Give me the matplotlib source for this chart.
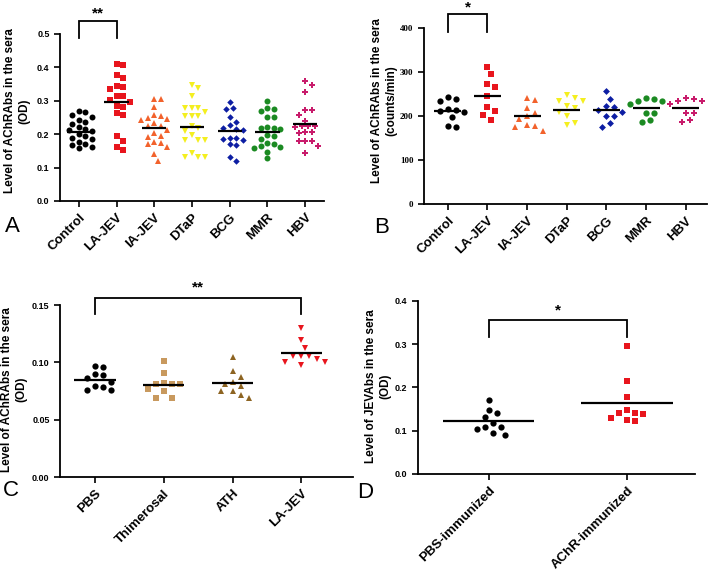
import numpy as np
import matplotlib
matplotlib.use("Agg")
import matplotlib.pyplot as plt

plt.rcParams['font.family'] = ['Liberation Sans', 'DejaVu Sans']

# ---------------- data ----------------
a_cats = ["Control", "LA-JEV", "IA-JEV", "DTaP", "BCG", "MMR", "HBV"]
a_control = [0.268, 0.266, 0.258, 0.252, 0.242, 0.236, 0.230, 0.222, 0.215, 0.212,
             0.208, 0.200, 0.195, 0.190, 0.185, 0.178, 0.172, 0.168, 0.162, 0.158]
a_lajev = [0.411, 0.407, 0.377, 0.367, 0.344, 0.341, 0.335, 0.313, 0.313, 0.303,
           0.297, 0.283, 0.281, 0.263, 0.258, 0.195, 0.181, 0.163, 0.153]
a_iajev = [0.306, 0.305, 0.281, 0.258, 0.253, 0.248, 0.245, 0.241, 0.232, 0.223,
           0.223, 0.213, 0.203, 0.195, 0.193, 0.178, 0.175, 0.172, 0.163, 0.140, 0.121]
a_dtap = [0.348, 0.338, 0.313, 0.278, 0.278, 0.278, 0.265, 0.253, 0.253, 0.253,
          0.223, 0.218, 0.208, 0.198, 0.183, 0.183, 0.183, 0.143, 0.131, 0.131, 0.131]
a_bcg = [0.295, 0.278, 0.276, 0.250, 0.236, 0.226, 0.218, 0.216, 0.213, 0.190,
         0.185, 0.183, 0.188, 0.170, 0.168, 0.131, 0.120]
a_mmr = [0.298, 0.275, 0.278, 0.270, 0.250, 0.250, 0.220, 0.218, 0.218, 0.215,
         0.198, 0.195, 0.175, 0.165, 0.160, 0.162, 0.170, 0.148, 0.128, 0.185]
a_hbv = [0.360, 0.348, 0.326, 0.271, 0.271, 0.258, 0.240, 0.223, 0.223, 0.223,
         0.221, 0.203, 0.205, 0.205, 0.179, 0.179, 0.179, 0.165, 0.143]
a_means = [0.206, 0.296, 0.218, 0.222, 0.210, 0.207, 0.229]

b_cats = ["Control", "LA-JEV", "IA-JEV", "DTaP", "BCG", "MMR", "HBV"]
b_control = [243, 238, 235, 215, 213, 212, 210, 197, 178, 175]
b_lajev = [311, 295, 273, 266, 245, 220, 211, 203, 190]
b_iajev = [241, 236, 218, 206, 199, 193, 180, 178, 176, 165]
b_dtap = [247, 240, 235, 233, 222, 218, 210, 199, 184, 179]
b_bcg = [256, 239, 223, 220, 214, 209, 201, 201, 183, 175]
b_mmr = [241, 235, 227, 235, 239, 207, 207, 186, 190]
b_hbv = [241, 235, 227, 235, 239, 207, 207, 186, 190]
b_means = [212, 246, 201, 213, 213, 219, 219]

c_cats = ["PBS", "Thimerosal", "ATH", "LA-JEV"]
c_pbs = [0.0963, 0.0969, 0.0897, 0.0891, 0.0862, 0.0833, 0.0789, 0.0795, 0.0760, 0.0760]
c_thim = [0.1015, 0.0905, 0.0810, 0.0808, 0.0812, 0.0824, 0.0746, 0.0769, 0.0693, 0.0693]
c_ath = [0.1050, 0.0925, 0.0873, 0.0810, 0.0795, 0.0833, 0.0746, 0.0746, 0.0717, 0.0693]
c_lajev = [0.1297, 0.1195, 0.1129, 0.1059, 0.1059, 0.1059, 0.1001, 0.0978, 0.1001, 0.1030]
c_means = [0.0850, 0.0806, 0.0821, 0.1080]

d_cats = ["PBS-immunized", "AChR-immunized"]
d_pbs = [0.1715, 0.1480, 0.1410, 0.1315, 0.1177, 0.1077, 0.1046, 0.1077, 0.0946, 0.0908]
d_achr = [0.2960, 0.2146, 0.1785, 0.1400, 0.1470, 0.1415, 0.1385, 0.1290, 0.1230, 0.1254]
d_means = [0.1215, 0.1638]

# ---------------- styles ----------------
c_black = "#000000"
c_red = "#e8151d"
c_orange = "#f2622c"
c_yellow = "#f4ef1f"
c_blue = "#0d1ea3"
c_green = "#1b8a22"
c_mag = "#c81b6b"
c_tan = "#c8995e"
c_brown = "#8d6422"

FW, FH, DPI = 7.09, 5.71, 100
fig = plt.figure(figsize=(FW, FH), dpi=DPI)


def swarm_x(ax, vals, center, gap_px):
    pos = ax.get_position()
    W = pos.width * FW * DPI
    H = pos.height * FH * DPI
    x0, x1 = ax.get_xlim()
    y0, y1 = ax.get_ylim()
    xs = W / (x1 - x0)
    ys = H / (y1 - y0)
    vals = np.asarray(vals, float)
    order = np.argsort(-vals, kind="stable")
    placed = []
    out = np.zeros(len(vals))
    ks = [0]
    for k in range(1, 40):
        ks += [k, -k]
    for i in order:
        yp = (vals[i] - y0) * ys
        xp = 0.0
        for k in ks:
            xp = k * gap_px * 0.5
            if all((xp - px) ** 2 + (yp - py) ** 2 >= gap_px ** 2 for px, py in placed):
                break
        placed.append((xp, yp))
        out[i] = center + xp / xs
    return out


def style_axes(ax):
    for s in ("top", "right"):
        ax.spines[s].set_visible(False)
    for s in ("left", "bottom"):
        ax.spines[s].set_linewidth(1.3)
    ax.tick_params(direction="out", width=1.2, length=4)


def draw_panel(ax, groups, means, half, gap_px):
    for i, (vals, marker, color, ms) in enumerate(groups):
        xs = swarm_x(ax, vals, i, gap_px)
        ax.plot(xs, vals, linestyle="none", marker=marker, color=color,
                markersize=ms, markeredgewidth=0, clip_on=False, zorder=3)
        ax.plot([i - half, i + half], [means[i], means[i]], color="black",
                lw=1.6, zorder=4, solid_capstyle="butt")


def bracket(ax, x0, x1, ylow, ytop, text, ytext):
    ax.plot([x0, x0, x1, x1], [ylow, ytop, ytop, ylow], color="black", lw=1.3,
            clip_on=False, solid_joinstyle="miter")
    ax.text((x0 + x1) / 2, ytext, text, ha="center", va="center",
            fontsize=11, fontweight="bold", clip_on=False)


def cat_labels(ax, cats, fs):
    ax.set_xticks(range(len(cats)))
    ax.set_xticklabels(cats, rotation=45, ha="right", va="top",
                       rotation_mode="anchor", fontsize=fs, fontweight="bold")


# ---------------- Panel A ----------------
axA = fig.add_axes([0.0846, 0.648, 0.3724, 0.2926])
axA.set_xlim(-0.5, 6.5)
axA.set_ylim(0, 0.5)
style_axes(axA)
draw_panel(axA, [
    (a_control, "o", c_black, 4.3),
    (a_lajev, "s", c_red, 4.2),
    (a_iajev, "^", c_orange, 4.3),
    (a_dtap, "v", c_yellow, 4.3),
    (a_bcg, "D", c_blue, 3.3),
    (a_mmr, "o", c_green, 4.3),
    (a_hbv, "P", c_mag, 4.3),
], a_means, 0.32, 6.5)
axA.set_yticks([0, 0.1, 0.2, 0.3, 0.4, 0.5])
axA.set_yticklabels(["0.0", "0.1", "0.2", "0.3", "0.4", "0.5"], fontsize=6.5, fontweight="bold")
cat_labels(axA, a_cats, 9.5)
axA.set_ylabel("Level of AChRAbs in the sera\n(OD)", fontsize=8.5, fontweight="bold")
axA.yaxis.set_label_coords(-0.114, 0.54)
bracket(axA, 0, 1, 0.488, 0.538, "**", 0.562)

# ---------------- Panel B ----------------
axB = fig.add_axes([0.598, 0.6427, 0.399, 0.3083])
axB.set_xlim(-0.6, 6.53)
axB.set_ylim(0, 400)
style_axes(axB)
draw_panel(axB, [
    (b_control, "o", c_black, 4.5),
    (b_lajev, "s", c_red, 4.5),
    (b_iajev, "^", c_orange, 4.5),
    (b_dtap, "v", c_yellow, 4.5),
    (b_bcg, "D", c_blue, 3.5),
    (b_mmr, "o", c_green, 4.5),
    (b_hbv, "P", c_mag, 4.5),
], b_means, 0.34, 8.0)
axB.set_yticks([0, 100, 200, 300, 400])
axB.set_yticklabels(["0", "100", "200", "300", "400"], fontsize=6.5, fontweight="bold",
                    family=["Liberation Serif", "DejaVu Serif"])
cat_labels(axB, b_cats, 9.5)
axB.set_ylabel("Level of AChRAbs in the sera\n(counts/min)", fontsize=8.5, fontweight="bold")
axB.yaxis.set_label_coords(-0.095, 0.59)
bracket(axB, 0, 1, 391, 432, "*", 446)

# ---------------- Panel C ----------------
axC = fig.add_axes([0.0846, 0.1646, 0.4133, 0.3012])
axC.set_xlim(-0.51, 3.75)
axC.set_ylim(0, 0.15)
style_axes(axC)
draw_panel(axC, [
    (c_pbs, "o", c_black, 4.5),
    (c_thim, "s", c_tan, 4.5),
    (c_ath, "^", c_brown, 4.5),
    (c_lajev, "v", c_red, 4.5),
], c_means, 0.3, 8.0)
axC.set_yticks([0, 0.05, 0.10, 0.15])
axC.set_yticklabels(["0.00", "0.05", "0.10", "0.15"], fontsize=6.5, fontweight="bold")
cat_labels(axC, c_cats, 9.5)
axC.set_ylabel("Level of AChRAbs in the sera\n(OD)", fontsize=8.5, fontweight="bold")
axC.yaxis.set_label_coords(-0.112, 0.51)
bracket(axC, 0, 3, 0.1419, 0.1558, "**", 0.1655)

# ---------------- Panel D ----------------
axD = fig.add_axes([0.5896, 0.1699, 0.3907, 0.303])
axD.set_xlim(-0.51, 1.49)
axD.set_ylim(0, 0.4)
style_axes(axD)
draw_panel(axD, [
    (d_pbs, "o", c_black, 4.5),
    (d_achr, "s", c_red, 4.3),
], d_means, 0.33, 8.0)
axD.set_yticks([0, 0.1, 0.2, 0.3, 0.4])
axD.set_yticklabels(["0.0", "0.1", "0.2", "0.3", "0.4"], fontsize=6.5, fontweight="bold")
cat_labels(axD, d_cats, 9.5)
axD.set_ylabel("Level of JEVAbs in the sera\n(OD)", fontsize=8.5, fontweight="bold")
axD.yaxis.set_label_coords(-0.098, 0.51)
bracket(axD, 0, 1, 0.316, 0.356, "*", 0.378)

# ---------------- panel letters ----------------
for letter, x, y in [("A", 12, 226), ("B", 382, 228), ("C", 11, 490), ("D", 365, 493)]:
    fig.text(x / (FW * DPI), 1 - y / (FH * DPI), letter, fontsize=16,
             ha="center", va="center")

fig.savefig("out.png", dpi=DPI)
